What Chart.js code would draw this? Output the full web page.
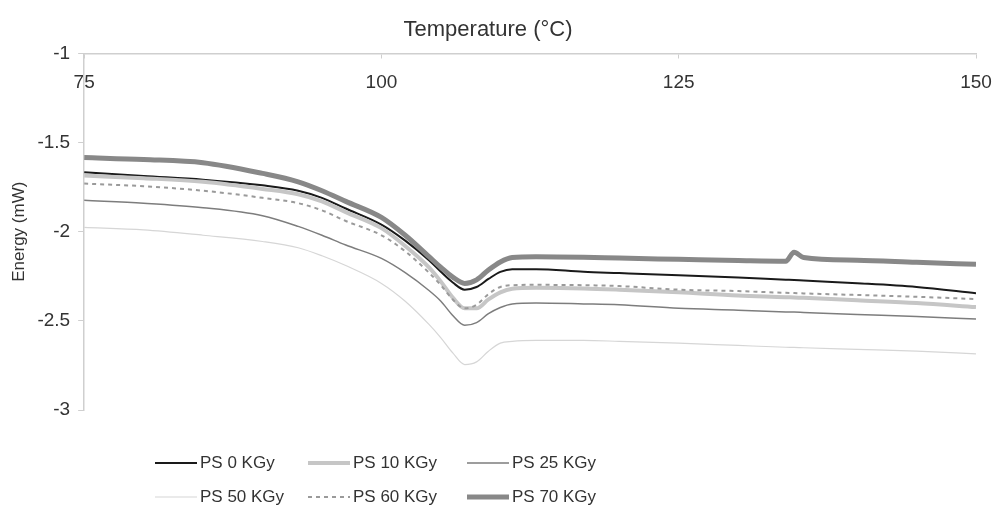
<!DOCTYPE html>
<html>
<head>
<meta charset="utf-8">
<script src="https://cdn.jsdelivr.net/npm/chart.js@4"></script>
<style>
  html, body { margin: 0; padding: 0; background: #fff; }
  #wrap { width: 995px; height: 508px; }
</style>
</head>
<body>
<div id="wrap"><canvas id="dscChart"></canvas></div>
<script>
// temperatures (°C)
const temps = [75, 80, 85, 90, 93, 95, 97, 100, 102, 104, 105, 106, 107, 108, 109, 110, 111, 113, 117, 120, 125, 130, 134, 134.7, 135.5, 140, 145, 150];

// energy (mW) per irradiation dose
const ps0  = [-1.666, -1.688, -1.708, -1.74, -1.77, -1.81, -1.87, -1.96, -2.05, -2.16, -2.225, -2.285, -2.325, -2.31, -2.265, -2.225, -2.21, -2.21, -2.225, -2.232, -2.244, -2.257, -2.269, -2.271, -2.274, -2.289, -2.31, -2.345];
const ps10 = [-1.685, -1.70, -1.72, -1.76, -1.79, -1.83, -1.89, -1.98, -2.08, -2.20, -2.28, -2.37, -2.43, -2.43, -2.38, -2.34, -2.32, -2.315, -2.318, -2.325, -2.34, -2.358, -2.367, -2.369, -2.371, -2.385, -2.40, -2.423];
const ps25 = [-1.824, -1.84, -1.865, -1.91, -1.97, -2.02, -2.075, -2.15, -2.23, -2.33, -2.39, -2.47, -2.525, -2.51, -2.46, -2.425, -2.405, -2.40, -2.405, -2.41, -2.43, -2.44, -2.45, -2.451, -2.453, -2.464, -2.475, -2.49];
const ps50 = [-1.976, -1.99, -2.02, -2.055, -2.09, -2.135, -2.19, -2.29, -2.39, -2.52, -2.595, -2.68, -2.745, -2.73, -2.67, -2.625, -2.615, -2.61, -2.61, -2.615, -2.625, -2.638, -2.648, -2.649, -2.651, -2.66, -2.67, -2.685];
const ps60 = [-1.73, -1.745, -1.77, -1.81, -1.84, -1.88, -1.94, -2.02, -2.11, -2.23, -2.30, -2.38, -2.43, -2.41, -2.35, -2.31, -2.30, -2.298, -2.30, -2.305, -2.325, -2.333, -2.343, -2.344, -2.346, -2.355, -2.365, -2.378];
const ps70 = [-1.584, -1.595, -1.613, -1.673, -1.72, -1.77, -1.83, -1.92, -2.02, -2.14, -2.20, -2.255, -2.29, -2.27, -2.215, -2.17, -2.145, -2.14, -2.143, -2.148, -2.155, -2.162, -2.166, -2.115, -2.145, -2.16, -2.172, -2.183];

const seriesNames = ['PS 0 KGy', 'PS 10 KGy', 'PS 25 KGy', 'PS 50 KGy', 'PS 60 KGy', 'PS 70 KGy'];
const yTicks = [-1, -1.5, -2, -2.5, -3];

const textColor = '#333333';
const axisColor = '#cfcfcf';
const fontFamily = '"Liberation Sans", Arial, sans-serif';

function line(label, data, color, width, order, dash) {
    return {
        label: label,
        data: data,
        borderColor: color,
        backgroundColor: color,
        borderWidth: width,
        borderDash: dash || [],
        pointRadius: 0,
        cubicInterpolationMode: 'monotone',
        fill: false,
        order: order
    };
}

// legend drawn as a 3 x 2 grid under the plot, like the original
const gridLegend = {
    id: 'gridLegend',
    afterDraw(chart) {
        const ctx = chart.ctx;
        const bottom = chart.chartArea.bottom;
        const cols = [155, 308, 467];
        const rows = [bottom + 53, bottom + 87];
        chart.data.datasets.forEach((ds, i) => {
            const x = cols[i % 3];
            const y = rows[Math.floor(i / 3)];
            ctx.save();
            ctx.strokeStyle = ds.borderColor;
            ctx.lineWidth = ds.borderWidth;
            ctx.setLineDash(ds.borderDash || []);
            ctx.beginPath();
            ctx.moveTo(x, y);
            ctx.lineTo(x + 42, y);
            ctx.stroke();
            ctx.setLineDash([]);
            ctx.fillStyle = textColor;
            ctx.font = '17px ' + fontFamily;
            ctx.textBaseline = 'middle';
            ctx.textAlign = 'left';
            ctx.fillText(ds.label, x + 45, y);
            ctx.restore();
        });
    }
};

document.addEventListener('DOMContentLoaded', function() {
    const ctx = document.getElementById('dscChart').getContext('2d');
    new Chart(ctx, {
        type: 'line',
        data: {
            labels: temps,
            datasets: [
                line(seriesNames[0], ps0, '#1a1a1a', 2, 6),
                line(seriesNames[1], ps10, '#c6c6c6', 4, 5),
                line(seriesNames[2], ps25, '#7d7d7d', 1.5, 4),
                line(seriesNames[3], ps50, '#d6d6d6', 1.2, 3),
                line(seriesNames[4], ps60, '#9a9a9a', 2, 2, [4, 4]),
                line(seriesNames[5], ps70, '#888888', 5, 1)
            ]
        },
        options: {
            responsive: true,
            maintainAspectRatio: false,
            animation: false,
            layout: {
                padding: { left: 0, right: 19, top: 0, bottom: 98 }
            },
            plugins: {
                legend: { display: false },
                tooltip: { enabled: false },
                title: {
                    display: true,
                    text: 'Temperature (°C)',
                    color: textColor,
                    font: { family: fontFamily, size: 22, weight: 'normal' },
                    padding: { top: 17, bottom: 10 }
                }
            },
            scales: {
                x: {
                    type: 'linear',
                    position: { y: -1 },
                    min: 75,
                    max: 150,
                    // labels sit under the axis line, so they need no side room
                    afterFit(axis) {
                        axis.paddingLeft = 0;
                        axis.paddingRight = 0;
                    },
                    ticks: {
                        stepSize: 25,
                        padding: 14,
                        color: textColor,
                        font: { family: fontFamily, size: 19 }
                    },
                    grid: {
                        drawOnChartArea: false,
                        drawTicks: true,
                        tickLength: 4,
                        color: axisColor
                    },
                    border: { display: true, color: axisColor, width: 1.5 }
                },
                y: {
                    type: 'linear',
                    position: 'left',
                    min: -3,
                    max: -1,
                    afterBuildTicks(axis) {
                        axis.ticks = yTicks.map(v => ({ value: v }));
                    },
                    ticks: {
                        padding: 8,
                        color: textColor,
                        font: { family: fontFamily, size: 19 },
                        callback: v => String(v)
                    },
                    grid: {
                        drawOnChartArea: false,
                        drawTicks: true,
                        tickLength: 6,
                        color: axisColor
                    },
                    border: { display: true, color: axisColor, width: 1.5 },
                    title: {
                        display: true,
                        text: 'Energy (mW)',
                        color: textColor,
                        font: { family: fontFamily, size: 17 },
                        padding: { top: 9, bottom: 0 }
                    }
                }
            }
        },
        plugins: [gridLegend]
    });
});
</script>
</body>
</html>
